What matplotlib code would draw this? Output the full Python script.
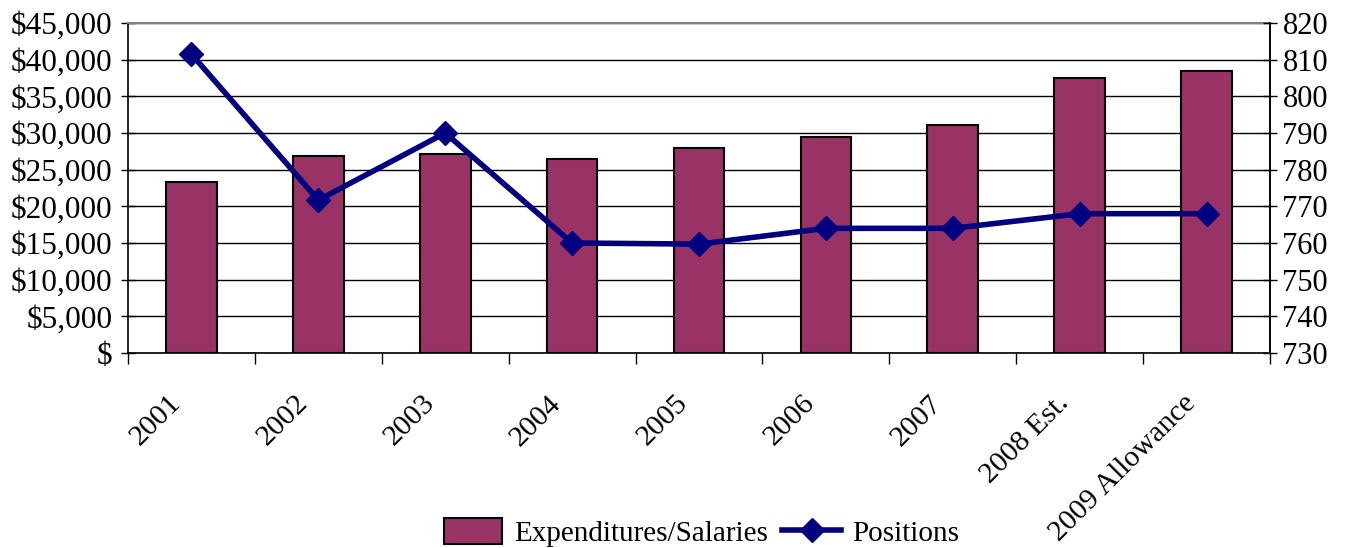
import matplotlib
matplotlib.use("Agg")
from matplotlib import pyplot as plt
from matplotlib.ticker import FuncFormatter
from matplotlib.transforms import ScaledTranslation
import numpy as np

years = ["2001", "2002", "2003", "2004", "2005", "2006", "2007", "2008 Est.", "2009 Allowance"]
expenditures = [23300, 26900, 27100, 26400, 28000, 29500, 31100, 37500, 38500]
positions = [811.5, 771.7, 790, 760, 759.7, 764, 764, 768, 768]

plt.rcParams["font.family"] = ["Liberation Serif", "DejaVu Serif"]
plt.rcParams["font.size"] = 22

fig = plt.figure(figsize=(13.52, 5.48), dpi=100)
ax = fig.add_axes([128 / 1352, 1 - 353 / 548, (1270 - 128) / 1352, 330 / 548])
x = np.arange(len(years))

ax.bar(x, expenditures, width=0.40, color="#993366", edgecolor="black", linewidth=1.5,
       label="Expenditures/Salaries", zorder=2)
ax.set_xlim(-0.5, len(years) - 0.5)
ax.set_ylim(0, 45000)
ax.set_yticks(np.arange(0, 45001, 5000))
ax.yaxis.set_major_formatter(FuncFormatter(lambda v, p: "$" if v == 0 else "${:,.0f}".format(v)))
ax.yaxis.grid(True, color="black", linewidth=1)
ax.set_axisbelow(True)
ax.tick_params(axis="y", direction="inout", length=10, width=1, labelsize=22.5, pad=6)

ax.set_xticks(np.arange(-0.5, len(years), 1.0), minor=False)
ax.set_xticklabels([])
ax.set_xticks(x, minor=True)
ax.set_xticklabels(years, minor=True, rotation=45, ha="right", rotation_mode="anchor")
ax.tick_params(axis="x", which="major", direction="out", length=8, width=1)
ax.tick_params(axis="x", which="minor", length=0, pad=16, labelsize=21.5)
# nudge the slanted labels down-left like the original
shift = ScaledTranslation(-24 / 100, -15 / 100, fig.dpi_scale_trans)
for lab in ax.get_xticklabels(minor=True):
    lab.set_transform(lab.get_transform() + shift)

for s in ["left", "bottom", "right"]:
    ax.spines[s].set_color("black")
    ax.spines[s].set_linewidth(1.2)
ax.spines["top"].set_color("#808080")
ax.spines["top"].set_linewidth(1.5)

ax2 = ax.twinx()
ax2.plot(x, positions, color="#000080", linewidth=4, marker="D", markersize=12,
         label="Positions", zorder=3)
ax2.set_ylim(730, 820)
ax2.set_yticks(np.arange(730, 821, 10))
ax2.tick_params(axis="y", direction="inout", length=10, width=1, labelsize=22, pad=4)
for s in ["left", "bottom", "top"]:
    ax2.spines[s].set_visible(False)
ax2.spines["right"].set_linewidth(1.2)

h1, l1 = ax.get_legend_handles_labels()
h2, l2 = ax2.get_legend_handles_labels()
fig.legend(h1 + h2, l1 + l2, loc="center", bbox_to_anchor=(0.519, 0.028), ncol=2, frameon=False,
           fontsize=21, handlelength=2.0, handleheight=1.0, handletextpad=0.4, columnspacing=0.5,
           borderpad=0)

fig.savefig("out.png", dpi=100)
